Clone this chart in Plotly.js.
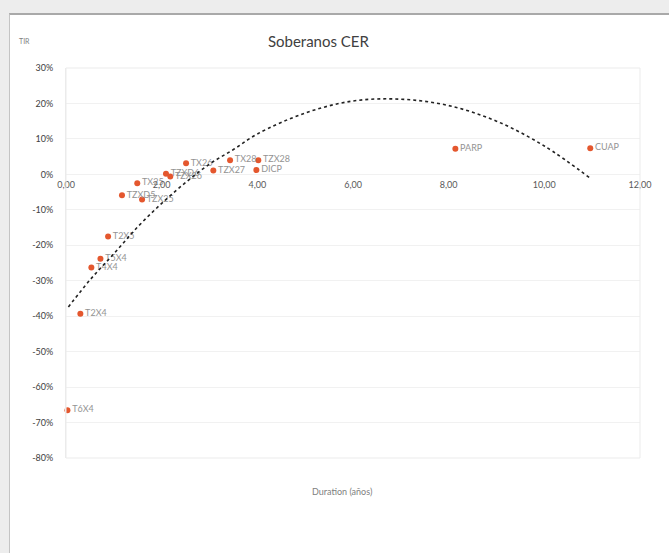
<!DOCTYPE html>
<html>
<head>
<meta charset="utf-8">
<script src="https://cdn.plot.ly/plotly-3.0.1.min.js"></script>
<style>
  html, body { margin:0; padding:0; background:#ededed; width:669px; height:553px; overflow:hidden; }
  #frame { position:absolute; left:9px; top:13px; width:660px; height:540px; background:#ffffff;
           border-top:2px solid #a9a9a9; border-left:1px solid #c4c4c4; }
  #chart { position:absolute; left:0; top:0; width:659px; height:538px; }
</style>
</head>
<body>
<div id="frame"><div id="chart"></div></div>
<script>
// Bond data
const bondNames = ["T6X4","T2X4","T4X4","T5X4","T2X5","TZXD5","TX25","TZX25","TZXD6","TZX26","TX26","TZX27","TX28","TZX28","DICP","PARP","CUAP"];
const duration  = [0.03, 0.30, 0.53, 0.72, 0.88, 1.17, 1.49, 1.59, 2.09, 2.18, 2.51, 3.08, 3.43, 4.02, 3.98, 8.14, 10.96];
const tir       = [-66.5, -39.3, -26.3, -23.8, -17.5, -5.9, -2.5, -7.1, 0.2, -0.6, 3.1, 1.1, 4.0, 4.0, 1.2, 7.2, 7.4];

// Polynomial trendline, points
const trendX = [0.05, 0.5, 1, 1.5, 2, 2.5, 3, 3.5, 4, 5, 6, 7, 8, 9, 10, 10.97];
const trendY = [-37.4, -29.8, -22.4, -14.8, -8.2, -2.3, 2.9, 7.0, 11.4, 17.3, 20.7, 21.2, 19.4, 15.0, 8.0, -1.2];

// Tick labels
const yTickVals = [30, 20, 10, 0, -10, -20, -30, -40, -50, -60, -70, -80];
const yTickText = ["30%", "20%", "10%", "0%", "-10%", "-20%", "-30%", "-40%", "-50%", "-60%", "-70%", "-80%"];
const xTickVals = [0, 2, 4, 6, 8, 10, 12];
const xTickText = ["0,00", "2,00", "4,00", "6,00", "8,00", "10,00", "12,00"];

const FONT = "Lato, 'Open Sans', sans-serif";

const points = {
  x: duration, y: tir, text: bondNames,
  type: "scatter", mode: "markers+text",
  marker: { color: "#e4572e", size: 6 },
  textposition: "middle right",
  textfont: { family: FONT, size: 9, color: "#939393" },
  cliponaxis: false, hoverinfo: "skip", showlegend: false
};
const trend = {
  x: trendX, y: trendY, type: "scatter", mode: "lines",
  line: { color: "#222222", width: 1.6, dash: "dot", shape: "spline" },
  hoverinfo: "skip", showlegend: false
};

const layout = {
  width: 659, height: 538,
  margin: { l: 56, r: 29, t: 53, b: 95 },
  paper_bgcolor: "#ffffff", plot_bgcolor: "#ffffff",
  font: { family: FONT, color: "#595959" },
  title: { text: "Soberanos CER", font: { family: FONT, size: 15, color: "#404040" },
           x: 0.468, xref: "container", xanchor: "center", y: 0.95, yref: "container", yanchor: "middle" },
  xaxis: {
    range: [0, 12], tickvals: xTickVals, ticktext: xTickText,
    anchor: "free", position: 80 / 110,
    showgrid: false, zeroline: false, showline: false, ticks: "", ticklabelstandoff: 4,
    tickfont: { family: FONT, size: 9, color: "#595959" }
  },
  yaxis: {
    range: [-80, 30], tickvals: yTickVals, ticktext: yTickText,
    showgrid: true, gridcolor: "#f1f1f1", gridwidth: 1, zeroline: false,
    showline: true, linecolor: "#ececec", ticks: "", ticklabelstandoff: 10,
    tickfont: { family: FONT, size: 9, color: "#404040" }
  },
  shapes: [
    { type: "rect", xref: "paper", yref: "paper", x0: 0, x1: 1, y0: 0, y1: 1,
      line: { color: "#ebebeb", width: 1 } }
  ],
  annotations: [
    { text: "TIR", xref: "paper", yref: "paper", x: -0.085, y: 1.07, xanchor: "left", yanchor: "middle",
      showarrow: false, font: { family: FONT, size: 7, color: "#7f7f7f" } },
    { text: "Duration (años)", xref: "paper", yref: "paper", x: 0.48, y: -0.085, xanchor: "center", yanchor: "middle",
      showarrow: false, font: { family: FONT, size: 9, color: "#808080" } }
  ]
};

Plotly.newPlot("chart", [points, trend], layout, { staticPlot: true, displayModeBar: false });
</script>
</body>
</html>
